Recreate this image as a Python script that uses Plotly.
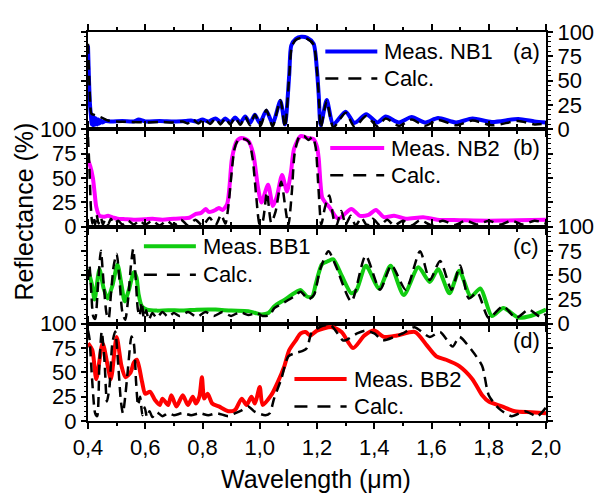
import plotly.graph_objects as go
from plotly.subplots import make_subplots

# ---------------- data ----------------
lam_nb1_meas = [0.400,0.403,0.407,0.410,0.413,0.416,0.419,0.422,0.425,0.428,0.432,0.436,0.440,0.445,0.450,0.460,0.480,0.520,0.560,0.577,0.600,0.650,0.700,0.740,0.760,0.780,0.800,0.820,0.845,0.865,0.880,0.897,0.914,0.932,0.949,0.966,0.983,1.000,1.023,1.045,1.072,1.088,1.103,1.110,1.126,1.145,1.166,1.188,1.200,1.206,1.213,1.234,1.257,1.300,1.331,1.372,1.411,1.440,1.486,1.531,1.577,1.623,1.686,1.743,1.811,1.903,1.960,2.000]
r_nb1_meas = [86,55,25,15,5,14,4,12,5,11,5,10,6,9,7,8.5,8,8.5,8,10,8,8.5,8,8.5,9,8,10,8,11,7.5,11,7,12,7,13,6.5,15,6.5,19,6,29,5,56,86,93,95,94,88,60,35,4,30,5,18,6.5,15.5,7,13,7,12.5,7,11.5,7,11,7.5,10.5,8,7]

lam_nb1_calc = [0.400,0.404,0.408,0.412,0.420,0.430,0.440,0.455,0.470,0.500,0.550,0.600,0.650,0.700,0.730,0.748,0.766,0.786,0.806,0.826,0.846,0.863,0.880,0.897,0.914,0.932,0.949,0.966,0.983,1.003,1.023,1.045,1.072,1.088,1.103,1.112,1.126,1.145,1.166,1.188,1.200,1.207,1.213,1.234,1.257,1.300,1.331,1.372,1.411,1.440,1.486,1.531,1.577,1.623,1.686,1.743,1.811,1.903,1.960,2.000]
r_nb1_calc = [88,55,25,16,15,14,13,11,9,8,7.5,7,7.5,7,8,6,10,6,10.5,5.5,11,5,11.5,5,12,4.5,13,4,15,3.5,20,3,30,2,55,85,92,94,93,87,60,30,1,29,2,17,2.5,13.5,3,11,3.5,10,3.5,9.5,4,9,4,8.5,5,6]

lam_nb2_meas = [0.400,0.408,0.417,0.423,0.429,0.440,0.455,0.470,0.490,0.503,0.530,0.560,0.600,0.626,0.660,0.700,0.730,0.754,0.777,0.795,0.811,0.822,0.834,0.845,0.857,0.870,0.886,0.894,0.903,0.920,0.937,0.960,0.977,0.994,1.006,1.029,1.046,1.060,1.078,1.095,1.109,1.120,1.143,1.166,1.188,1.200,1.206,1.212,1.218,1.228,1.243,1.274,1.320,1.350,1.380,1.406,1.434,1.469,1.510,1.571,1.620,1.700,1.800,1.900,2.000]
r_nb2_meas = [68,62,50,35,20,11,10,11,9,8,7.5,7,7.5,8,7,8,8.5,9,13,14,18,15,15.6,17,19,17,23,40,70,88,91,88,75,40,24.6,43,21,31,53,36,56,80,93,91,90,82,70,45,30,25,20,8,18,11,12,17,9.6,11,8,9.6,7,6.5,6,6.3,7]

lam_nb2_calc = [0.400,0.405,0.410,0.415,0.420,0.425,0.430,0.437,0.445,0.452,0.460,0.470,0.480,0.490,0.505,0.520,0.540,0.560,0.580,0.600,0.625,0.650,0.675,0.700,0.725,0.750,0.775,0.800,0.825,0.845,0.865,0.880,0.890,0.900,0.912,0.925,0.945,0.962,0.975,0.988,1.000,1.010,1.025,1.040,1.055,1.075,1.090,1.100,1.112,1.122,1.138,1.155,1.170,1.185,1.195,1.205,1.215,1.228,1.243,1.258,1.268,1.285,1.300,1.318,1.335,1.355,1.375,1.395,1.420,1.445,1.470,1.500,1.530,1.560,1.600,1.640,1.680,1.720,1.760,1.800,1.840,1.880,1.920,1.960,2.000]
r_nb2_calc = [92,60,20,3,10,2,12,3,9,2,7,2,8,3,6,2,6,2,6,2,6,1,6,1,7,1,7,1,9,1,12,3,20,50,80,89,90,87,70,30,2,5,35,4,15,46,18,1,35,75,92,93,89,92,82,40,2,20,32,8,1,16,2,11,1,9,1,8,1,7,1,6,1,6.5,1.5,6,1.5,6,2,6,2,6,2,6,3]

lam_bb1_meas = [0.400,0.414,0.423,0.440,0.455,0.469,0.486,0.503,0.517,0.528,0.543,0.560,0.569,0.577,0.588,0.606,0.640,0.680,0.731,0.780,0.846,0.900,0.960,0.985,1.006,1.030,1.051,1.086,1.120,1.143,1.165,1.183,1.195,1.206,1.217,1.240,1.257,1.286,1.320,1.337,1.371,1.417,1.457,1.503,1.554,1.594,1.623,1.663,1.697,1.737,1.771,1.811,1.851,1.903,1.946,2.000]
r_bb1_meas = [56,40,25,56,36,26,40,61,40,23,35,53,48,30,18,14.6,13.5,14,13.5,14.5,14.6,13.5,13,11,9.6,11,18,24.6,31.3,34.6,28,28,40,52,61,64.6,66.3,49.6,31.3,34,59.6,36.3,59.6,29.6,58,43,56,31.3,54.6,28,36.3,8,16.3,6.3,8,14.6]

lam_bb1_calc = [0.400,0.405,0.412,0.418,0.425,0.435,0.445,0.455,0.465,0.472,0.480,0.490,0.500,0.510,0.520,0.530,0.540,0.550,0.558,0.566,0.574,0.580,0.588,0.595,0.603,0.612,0.625,0.640,0.660,0.680,0.700,0.720,0.750,0.780,0.810,0.840,0.870,0.900,0.930,0.960,0.990,1.010,1.035,1.051,1.086,1.120,1.143,1.170,1.190,1.210,1.240,1.265,1.320,1.370,1.420,1.460,1.510,1.560,1.594,1.630,1.670,1.700,1.730,1.760,1.800,1.850,1.895,1.940,1.980,2.000]
r_bb1_calc = [45,60,30,8,5,40,75,40,10,5,30,60,72,45,12,4,25,60,77,50,15,8,22,6,14,4,11,6,12,7,11,8,12,7,12,8,12,8,12,9,11,8,9,16,22,28,33,25,30,55,74.6,60,23,70,35,60,35,74.6,45,64.6,35,60,26,32,6,18,6,14.6,7,10]

lam_bb2_meas = [0.400,0.415,0.429,0.451,0.469,0.480,0.500,0.517,0.531,0.549,0.560,0.571,0.589,0.600,0.617,0.634,0.651,0.660,0.680,0.691,0.709,0.731,0.749,0.766,0.777,0.789,0.798,0.806,0.818,0.834,0.857,0.891,0.914,0.937,0.954,0.971,0.983,1.000,1.010,1.040,1.063,1.086,1.103,1.126,1.143,1.160,1.177,1.200,1.252,1.286,1.326,1.366,1.400,1.434,1.480,1.543,1.583,1.617,1.651,1.697,1.743,1.777,1.800,1.846,1.891,1.949,2.000]
r_bb2_meas = [80,73,43,80,56.5,43,86.5,56.5,45,50,60,63,40,28,30,21.5,16.5,23,16.5,26.5,15,26.5,16.5,25,18,25,45,23,28,18,15,10,11.5,23,16.5,25,18,35,16.5,26.5,40,56.5,73,83,90,91.5,88,93,96.5,91.5,75,88,93,86.5,88,91.5,78,66.5,63,56.5,43,26.5,20,15,10,9,8]

lam_bb2_calc = [0.400,0.405,0.415,0.425,0.432,0.440,0.448,0.458,0.466,0.475,0.485,0.495,0.505,0.515,0.522,0.530,0.540,0.552,0.560,0.568,0.575,0.582,0.590,0.598,0.606,0.615,0.625,0.640,0.660,0.680,0.700,0.730,0.760,0.790,0.820,0.850,0.890,0.915,0.937,0.960,0.980,0.994,1.020,1.035,1.050,1.075,1.100,1.126,1.150,1.165,1.180,1.200,1.220,1.250,1.290,1.300,1.340,1.370,1.400,1.430,1.470,1.500,1.540,1.594,1.630,1.674,1.697,1.740,1.777,1.800,1.835,1.880,1.926,1.970,2.000]
r_bb2_calc = [93,85,40,8,5,60,92,60,20,35,80,92,60,20,8,25,55,87,80,40,16,25,6,14,4,10,4,9,5,8,6,8,6,8,6,8,5,8,11,15,10,8,6,8,23,43,66.5,70,72,75,90,95,98,98,83,83,90,93,90,83,86.5,90,96.5,86.5,91.5,76.5,86.5,73,56.5,26.5,13,5,10,5,14]

x_tick_vals = [0.4, 0.6, 0.8, 1.0, 1.2, 1.4, 1.6, 1.8, 2.0]
x_tick_text = ["0,4", "0,6", "0,8", "1,0", "1,2", "1,4", "1,6", "1,8", "2,0"]
y_tick_vals = [0, 25, 50, 75, 100]

panels = [
    ("Meas. NB1", "#0000ff", lam_nb1_meas, r_nb1_meas, lam_nb1_calc, r_nb1_calc, "(a)"),
    ("Meas. NB2", "#ff00ff", lam_nb2_meas, r_nb2_meas, lam_nb2_calc, r_nb2_calc, "(b)"),
    ("Meas. BB1", "#11cc11", lam_bb1_meas, r_bb1_meas, lam_bb1_calc, r_bb1_calc, "(c)"),
    ("Meas. BB2", "#ff0000", lam_bb2_meas, r_bb2_meas, lam_bb2_calc, r_bb2_calc, "(d)"),
]

FONT = "Liberation Sans, Arial, sans-serif"
OFF = 8  # page body margin in the browser
W, H = 606 - OFF, 496 - OFF
PL, PT, PR, PB = 88, 21, 555, 421.5  # plot area in page pixels
ML, MT = PL - OFF, PT - OFF
MR, MB = W - (PR - OFF), H - (PB - OFF)
PW, PH = PR - PL, PB - PT

def px(xp):
    return (xp - PL) / PW

def py(yp):
    return (PB - yp) / PH

fig = make_subplots(rows=4, cols=1, shared_xaxes=True, vertical_spacing=0)

for i, (name, col, lm, rm, lc, rc, tag) in enumerate(panels, start=1):
    fig.add_trace(go.Scatter(x=lm, y=rm, mode="lines", name=name,
                             line=dict(color=col, width=4, shape="spline", smoothing=0.7),
                             showlegend=False), row=i, col=1)
    fig.add_trace(go.Scatter(x=lc, y=rc, mode="lines", name="Calc.",
                             line=dict(color="black", width=2.5, dash="10px,6px", shape="spline", smoothing=0.7),
                             showlegend=False), row=i, col=1)

for i in range(1, 5):
    fig.update_xaxes(range=[0.4, 2.0], showline=True, linewidth=2, linecolor="black",
                     mirror="ticks", ticks="outside", ticklen=6, tickwidth=1.5, tickcolor="black",
                     tickvals=x_tick_vals, ticktext=x_tick_text,
                     showticklabels=(i == 4), showgrid=False, zeroline=False,
                     minor=dict(dtick=0.1, tick0=0.4, ticks="outside", ticklen=3, tickwidth=1.5, tickcolor="black"),
                     tickfont=dict(family=FONT, size=22, color="black"),
                     row=i, col=1)
    fig.update_yaxes(range=[0, 100], showline=True, linewidth=2, linecolor="black",
                     mirror="ticks", ticks="outside", ticklen=5, tickwidth=1.5, tickcolor="black",
                     tickvals=y_tick_vals, side=("right" if i in (1, 3) else "left"),
                     showgrid=False, zeroline=False,
                     minor=dict(dtick=5, tick0=0, ticks="outside", ticklen=2.5, tickwidth=1, tickcolor="black"),
                     tickfont=dict(family=FONT, size=22, color="black"),
                     row=i, col=1)

# legend boxes drawn as decorations: (line x0, line x1, row1 y, row2 y, text x, tag y) in page pixels
legend_pos = [
    (330, 383, 41, 69, 388, 41.5),
    (335, 390, 140.5, 168.5, 395, 140),
    (145, 198, 241.7, 271, 203, 241.7),
    (298.5, 351.7, 378.3, 406.7, 357, 338.3),
]
shapes = []
annotations = []
for (name, col, lm, rm, lc, rc, tag), (x0, x1, y1, y2, tx, ty) in zip(panels, legend_pos):
    shapes.append(dict(type="line", xref="paper", yref="paper", x0=px(x0), x1=px(x1), y0=py(y1), y1=py(y1),
                       line=dict(color=col, width=4)))
    shapes.append(dict(type="line", xref="paper", yref="paper", x0=px(x0), x1=px(x1), y0=py(y2), y1=py(y2),
                       line=dict(color="black", width=2.5, dash="13px,10px")))
    annotations.append(dict(xref="paper", yref="paper", x=px(tx), y=py(y1), text=name, showarrow=False,
                            xanchor="left", yanchor="middle", font=dict(family=FONT, size=22, color="black")))
    annotations.append(dict(xref="paper", yref="paper", x=px(tx), y=py(y2), text="Calc.", showarrow=False,
                            xanchor="left", yanchor="middle", font=dict(family=FONT, size=22, color="black")))
    annotations.append(dict(xref="paper", yref="paper", x=px(535), y=py(ty), text=tag, showarrow=False,
                            xanchor="center", yanchor="middle", font=dict(family=FONT, size=22, color="black")))

annotations.append(dict(xref="paper", yref="paper", x=px(22.5), y=py(206), text="Reflectance (%)",
                        textangle=-90, showarrow=False, xanchor="center", yanchor="middle",
                        font=dict(family=FONT, size=25, color="black")))
annotations.append(dict(xref="paper", yref="paper", x=px(320), y=py(481), text="Wavelength (\u03bcm)",
                        showarrow=False, xanchor="center", yanchor="middle",
                        font=dict(family=FONT, size=25, color="black")))

fig.update_layout(width=W, height=H, margin=dict(l=ML, r=MR, t=MT, b=MB),
                  paper_bgcolor="white", plot_bgcolor="white",
                  shapes=shapes, annotations=annotations, showlegend=False,
                  font=dict(family=FONT, color="black"))

fig.write_html("out.html")
